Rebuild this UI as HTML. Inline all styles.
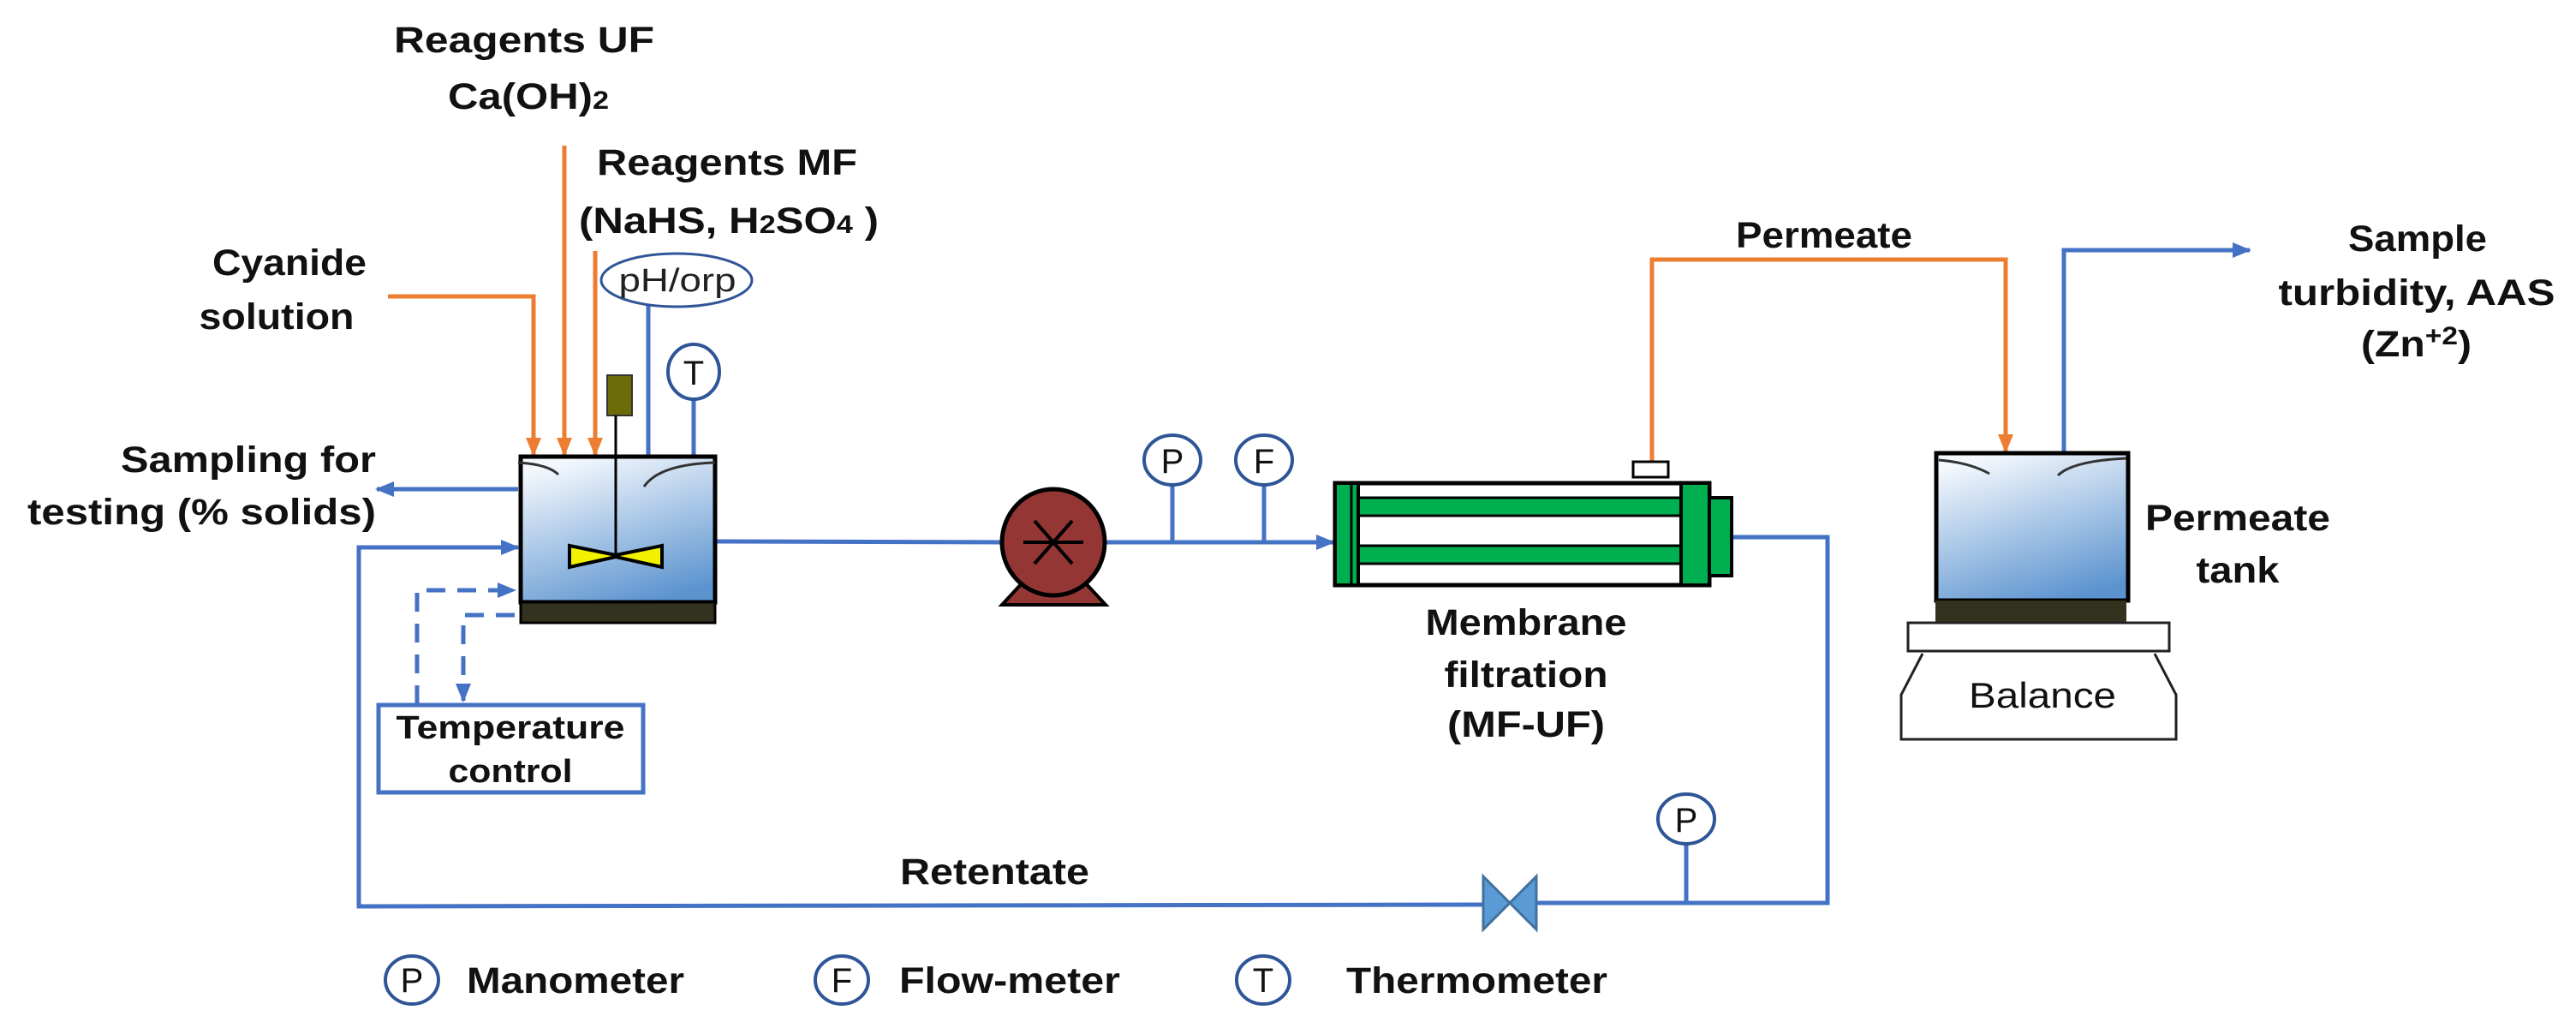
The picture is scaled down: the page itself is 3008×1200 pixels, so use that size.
<!DOCTYPE html>
<html><head><meta charset="utf-8"><style>html,body{margin:0;padding:0;background:#fff}svg{display:block}</style></head>
<body>
<svg width="3008" height="1200" viewBox="0 0 3008 1200" xmlns="http://www.w3.org/2000/svg" font-family="Liberation Sans, Arial, sans-serif">
<defs>
<linearGradient id="tk" x1="0.3" y1="0" x2="0.7" y2="1">
<stop offset="0" stop-color="#f4f8fd"/><stop offset="1" stop-color="#5b93cf"/></linearGradient>
<marker id="abB" markerWidth="22" markerHeight="18" refX="20" refY="9" orient="auto" markerUnits="userSpaceOnUse"><path d="M0,0 L22,9 L0,18z" fill="#4472c4"/></marker>
<marker id="aoB" markerWidth="22" markerHeight="18" refX="20" refY="9" orient="auto" markerUnits="userSpaceOnUse"><path d="M0,0 L22,9 L0,18z" fill="#ed7d31"/></marker>
</defs>
<g fill="none" stroke-width="5">
<polyline points="453,346 623,346 623,531" stroke="#ed7d31" marker-end="url(#aoB)"/>
<line x1="659" y1="170" x2="659" y2="531" stroke="#ed7d31" marker-end="url(#aoB)"/>
<line x1="695" y1="293" x2="695" y2="531" stroke="#ed7d31" marker-end="url(#aoB)"/>
<polyline points="1929,539 1929,303 2342,303 2342,527" stroke="#ed7d31" marker-end="url(#aoB)"/>
<line x1="757" y1="355" x2="757" y2="533" stroke="#4472c4"/>
<line x1="810" y1="467" x2="810" y2="533" stroke="#4472c4"/>
<line x1="605" y1="571" x2="440" y2="571" stroke="#4472c4" marker-end="url(#abB)"/>
<polyline points="1732,1056 419,1058 419,639 605,639" stroke="#4472c4" marker-end="url(#abB)"/>
<line x1="835" y1="632" x2="1170" y2="633" stroke="#4472c4"/>
<line x1="1290" y1="633" x2="1557" y2="633" stroke="#4472c4" marker-end="url(#abB)"/>
<line x1="1369" y1="566" x2="1369" y2="633" stroke="#4472c4"/>
<line x1="1476" y1="566" x2="1476" y2="633" stroke="#4472c4"/>
<polyline points="2022,627 2134,627 2134,1054 1794,1054" stroke="#4472c4"/>
<line x1="1969" y1="985" x2="1969" y2="1054" stroke="#4472c4"/>
<polyline points="2410,529 2410,292 2627,292" stroke="#4472c4" marker-end="url(#abB)"/>
<polyline points="487,822 487,689 601,689" stroke="#4472c4" stroke-dasharray="22,14" marker-end="url(#abB)"/>
<polyline points="601,718 541,718 541,818" stroke="#4472c4" stroke-dasharray="22,14" marker-end="url(#abB)"/>
</g>
<rect x="608" y="533" width="227" height="170" fill="url(#tk)" stroke="#000" stroke-width="5"/>
<rect x="608" y="703" width="227" height="24" fill="#33321f" stroke="#000" stroke-width="3"/>
<path d="M605,540 Q640,542 652,554 M835,540 Q770,542 752,568" stroke="#333" stroke-width="3" fill="none"/>
<rect x="709" y="438" width="29" height="47" fill="#6b6b0a" stroke="#333" stroke-width="2"/>
<line x1="719" y1="485" x2="719" y2="648" stroke="#000" stroke-width="3"/>
<path d="M665,637 L719,648 L773,637 L773,662 L719,650 L665,662z" fill="#f2f200" stroke="#000" stroke-width="4"/>
<ellipse cx="790" cy="327" rx="88" ry="31" fill="#fff" stroke="#2f5597" stroke-width="3"/>
<text x="791" y="340" font-size="38" text-anchor="middle" fill="#222" textLength="137" lengthAdjust="spacingAndGlyphs">pH/orp</text>
<g fill="#fff" stroke="#2f5597" stroke-width="4">
<ellipse cx="810" cy="434" rx="30" ry="32"/>
<ellipse cx="1369" cy="537" rx="33" ry="29"/>
<ellipse cx="1476" cy="537" rx="33" ry="29"/>
<ellipse cx="1969" cy="956" rx="33" ry="29"/>
<ellipse cx="481" cy="1144" rx="31" ry="28"/>
<ellipse cx="983" cy="1144" rx="31" ry="28"/>
<ellipse cx="1475" cy="1144" rx="31" ry="28"/>
</g>
<g font-size="40" fill="#111" text-anchor="middle">
<text x="810" y="449">T</text>
<text x="1369" y="552">P</text><text x="1476" y="552">F</text><text x="1969" y="971">P</text>
<text x="481" y="1158">P</text><text x="983" y="1158">F</text><text x="1475" y="1158">T</text>
</g>
<path d="M1170,706 L1195,679 L1266,679 L1291,706z" fill="#943634" stroke="#000" stroke-width="4"/>
<ellipse cx="1230" cy="633" rx="60" ry="62" fill="#943634" stroke="#000" stroke-width="5"/>
<g stroke="#000" stroke-width="4"><line x1="1195" y1="633" x2="1265" y2="633"/><line x1="1208" y1="608" x2="1252" y2="658"/><line x1="1208" y1="658" x2="1252" y2="608"/></g>
<rect x="1559" y="564" width="437" height="119" fill="#fff" stroke="#000" stroke-width="5"/>
<rect x="1586" y="581" width="377" height="21" fill="#00b050" stroke="#000" stroke-width="3"/>
<rect x="1586" y="637" width="377" height="21" fill="#00b050" stroke="#000" stroke-width="3"/>
<rect x="1559" y="564" width="27" height="119" fill="#00b050" stroke="#000" stroke-width="4"/>
<line x1="1578" y1="566" x2="1578" y2="681" stroke="#000" stroke-width="3"/>
<rect x="1963" y="564" width="33" height="119" fill="#00b050" stroke="#000" stroke-width="4"/>
<rect x="1996" y="581" width="26" height="91" fill="#00b050" stroke="#000" stroke-width="4"/>
<rect x="1907" y="539" width="41" height="18" fill="#fff" stroke="#000" stroke-width="3"/>
<path d="M1732,1023 L1794,1085 L1794,1023 L1732,1085z" fill="#5b9bd5" stroke="#41719c" stroke-width="3"/>
<rect x="442" y="823" width="309" height="102" fill="#fff" stroke="#4472c4" stroke-width="5"/>
<rect x="2261" y="529" width="224" height="172" fill="url(#tk)" stroke="#000" stroke-width="5"/>
<rect x="2260" y="701" width="223" height="25" fill="#33321f"/>
<path d="M2264,537 Q2300,540 2323,553 M2483,535 Q2420,538 2403,555" stroke="#333" stroke-width="3" fill="none"/>
<rect x="2228" y="727" width="305" height="33" fill="#fff" stroke="#222" stroke-width="3"/>
<path d="M2245,763 L2220,811 L2220,863 L2541,863 L2541,811 L2516,763" fill="#fff" stroke="#222" stroke-width="3"/>
<text x="2385" y="826" font-size="42" text-anchor="middle" fill="#111" textLength="172" lengthAdjust="spacingAndGlyphs">Balance</text>
<g font-size="43" font-weight="bold" fill="#111" lengthAdjust="spacingAndGlyphs">
<text x="612" y="61" text-anchor="middle" textLength="304" lengthAdjust="spacingAndGlyphs">Reagents  UF</text>
<text x="617" y="127" text-anchor="middle" textLength="188" lengthAdjust="spacingAndGlyphs">Ca(OH)<tspan font-size="30">2</tspan></text>
<text x="849" y="204" text-anchor="middle" textLength="304" lengthAdjust="spacingAndGlyphs">Reagents  MF</text>
<text x="676" y="272" textLength="350" lengthAdjust="spacingAndGlyphs">(NaHS, H<tspan font-size="30">2</tspan>SO<tspan font-size="30">4</tspan> )</text>
<text x="338" y="321" text-anchor="middle" textLength="180" lengthAdjust="spacingAndGlyphs">Cyanide</text>
<text x="323" y="384" text-anchor="middle" textLength="181" lengthAdjust="spacingAndGlyphs">solution</text>
<text x="439" y="551" text-anchor="end" textLength="298" lengthAdjust="spacingAndGlyphs">Sampling  for</text>
<text x="439" y="612" text-anchor="end" textLength="407" lengthAdjust="spacingAndGlyphs">testing  (% solids)</text>
<text x="596" y="862" text-anchor="middle" font-size="38" textLength="267" lengthAdjust="spacingAndGlyphs">Temperature</text>
<text x="596" y="913" text-anchor="middle" font-size="38" textLength="145" lengthAdjust="spacingAndGlyphs">control</text>
<text x="1782" y="741" text-anchor="middle" textLength="235" lengthAdjust="spacingAndGlyphs">Membrane</text>
<text x="1782" y="802" text-anchor="middle" textLength="191" lengthAdjust="spacingAndGlyphs">filtration</text>
<text x="1782" y="860" text-anchor="middle" textLength="184" lengthAdjust="spacingAndGlyphs">(MF-UF)</text>
<text x="1051" y="1032" textLength="221" lengthAdjust="spacingAndGlyphs">Retentate</text>
<text x="2130" y="289" text-anchor="middle" textLength="206" lengthAdjust="spacingAndGlyphs">Permeate</text>
<text x="2823" y="293" text-anchor="middle" textLength="162" lengthAdjust="spacingAndGlyphs">Sample</text>
<text x="2822" y="356" text-anchor="middle" textLength="323" lengthAdjust="spacingAndGlyphs">turbidity,  AAS</text>
<text x="2757" y="416" textLength="129" lengthAdjust="spacingAndGlyphs">(Zn<tspan font-size="30" dy="-14">+2</tspan><tspan dy="14">)</tspan></text>
<text x="2613" y="619" text-anchor="middle" textLength="216" lengthAdjust="spacingAndGlyphs">Permeate</text>
<text x="2613" y="680" text-anchor="middle" textLength="97" lengthAdjust="spacingAndGlyphs">tank</text>
<text x="545" y="1159" textLength="254" lengthAdjust="spacingAndGlyphs">Manometer</text>
<text x="1050" y="1159" textLength="258" lengthAdjust="spacingAndGlyphs">Flow-meter</text>
<text x="1572" y="1159" textLength="305" lengthAdjust="spacingAndGlyphs">Thermometer</text>
</g>
</svg>
</body></html>
